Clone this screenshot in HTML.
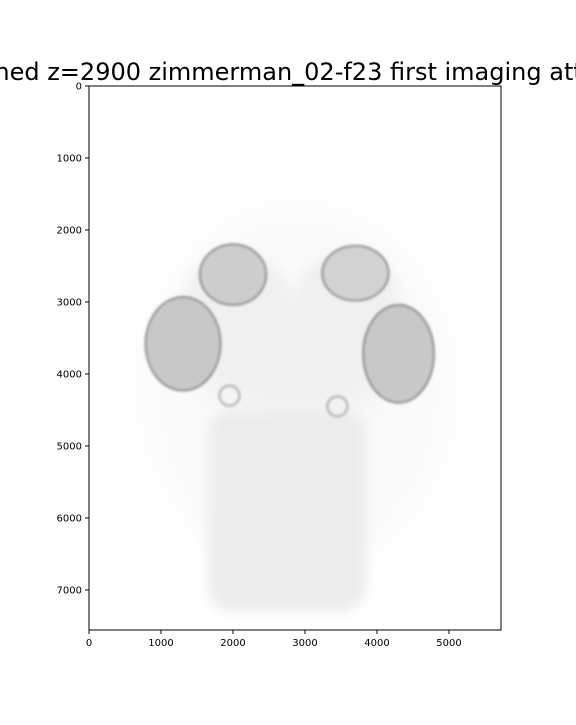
<!DOCTYPE html>
<html><head><meta charset="utf-8"><style>
body{margin:0;background:#fff;width:576px;height:720px;overflow:hidden}
svg text{font-family:"DejaVu Sans","Liberation Sans",sans-serif}
</style></head><body>
<svg id="chart" width="576" height="720" viewBox="0 0 576 720">
<defs>
<filter id="b6" x="-50%" y="-50%" width="200%" height="200%"><feGaussianBlur stdDeviation="6"/></filter>
<filter id="b2" x="-50%" y="-50%" width="200%" height="200%"><feGaussianBlur stdDeviation="1.2"/></filter>
<filter id="b12" x="-50%" y="-50%" width="200%" height="200%"><feGaussianBlur stdDeviation="14"/></filter>
<clipPath id="ax"><rect x="89" y="86" width="412" height="544"/></clipPath>
</defs>
<text x="293" y="80" font-size="24" text-anchor="middle">Stitched z=2900 zimmerman_02-f23 first imaging attempt</text>
<g id="img" clip-path="url(#ax)"></g>
<rect x="89" y="86" width="412" height="544" fill="none" stroke="#000" stroke-width="1"/>
<g id="ticks"></g>
</svg>
<script>
const xTicks=[0,1000,2000,3000,4000,5000];
const yTicks=[0,1000,2000,3000,4000,5000,6000,7000];
const blobCx=[2900,2900,2050,3600,2000,3700,1306,4300];
const blobCy=[4200,3700,2900,2900,2620,2600,3580,3720];
const blobRx=[2200,1500,700,700,460,460,520,490];
const blobRy=[2600,850,600,600,420,380,650,680];
const blobG=[250,240,240,240,205,210,200,200];
const blobBlur=["b12","b12","b6","b6","b2","b2","b2","b2"];
const bodyX=[1650,3850];
const bodyY=[4500,7300];
const ax=89,ay=86,s=0.072;
function X(v){return ax+v*s;}
function Y(v){return ay+v*s;}
const NS="http://www.w3.org/2000/svg";
const img=document.getElementById('img');
for(let i=0;i<blobCx.length;i++){
  const e=document.createElementNS(NS,'ellipse');
  
  
  e.setAttribute('cx',X(blobCx[i]));e.setAttribute('cy',Y(blobCy[i]));
  e.setAttribute('rx',blobRx[i]*s);e.setAttribute('ry',blobRy[i]*s);
  const g=blobG[i];
  e.setAttribute('fill',`rgb(${g},${g},${g})`);
  e.setAttribute('filter',`url(#${blobBlur[i]})`);
  if(i>=4){e.setAttribute('stroke','#666');e.setAttribute('stroke-width','1.5');}
  img.appendChild(e);
}
const body=document.createElementNS(NS,'rect');


body.setAttribute('x',X(bodyX[0]));body.setAttribute('y',Y(bodyY[0]));
body.setAttribute('width',(bodyX[1]-bodyX[0])*s);body.setAttribute('height',(bodyY[1]-bodyY[0])*s);
body.setAttribute('rx',25);body.setAttribute('fill','rgb(236,236,236)');body.setAttribute('filter','url(#b6)');
img.appendChild(body);
const ringCx=[1950,3450];const ringCy=[4300,4450];
for(let i=0;i<ringCx.length;i++){
  const c=document.createElementNS(NS,'circle');
  
  
  c.setAttribute('cx',X(ringCx[i]));c.setAttribute('cy',Y(ringCy[i]));c.setAttribute('r',10);
  c.setAttribute('fill','none');c.setAttribute('stroke','#aaa');c.setAttribute('stroke-width','2');c.setAttribute('filter','url(#b2)');
  img.appendChild(c);
}
const tk=document.getElementById('ticks');
xTicks.forEach(v=>{
  const l=document.createElementNS(NS,'line');
  
  
  l.setAttribute('x1',X(v));l.setAttribute('x2',X(v));l.setAttribute('y1',630);l.setAttribute('y2',634);l.setAttribute('stroke','#000');
  tk.appendChild(l);
  const t=document.createElementNS(NS,'text');
  
  
  t.setAttribute('x',X(v));t.setAttribute('y',646);t.setAttribute('font-size','10');t.setAttribute('text-anchor','middle');
  t.textContent=v;tk.appendChild(t);
});
yTicks.forEach(v=>{
  const l=document.createElementNS(NS,'line');
  
  
  l.setAttribute('x1',85);l.setAttribute('x2',89);l.setAttribute('y1',Y(v));l.setAttribute('y2',Y(v));l.setAttribute('stroke','#000');
  tk.appendChild(l);
  const t=document.createElementNS(NS,'text');
  
  
  t.setAttribute('x',82);t.setAttribute('y',Y(v)+3.5);t.setAttribute('font-size','10');t.setAttribute('text-anchor','end');
  t.textContent=v;tk.appendChild(t);
});
</script>
</body></html>
